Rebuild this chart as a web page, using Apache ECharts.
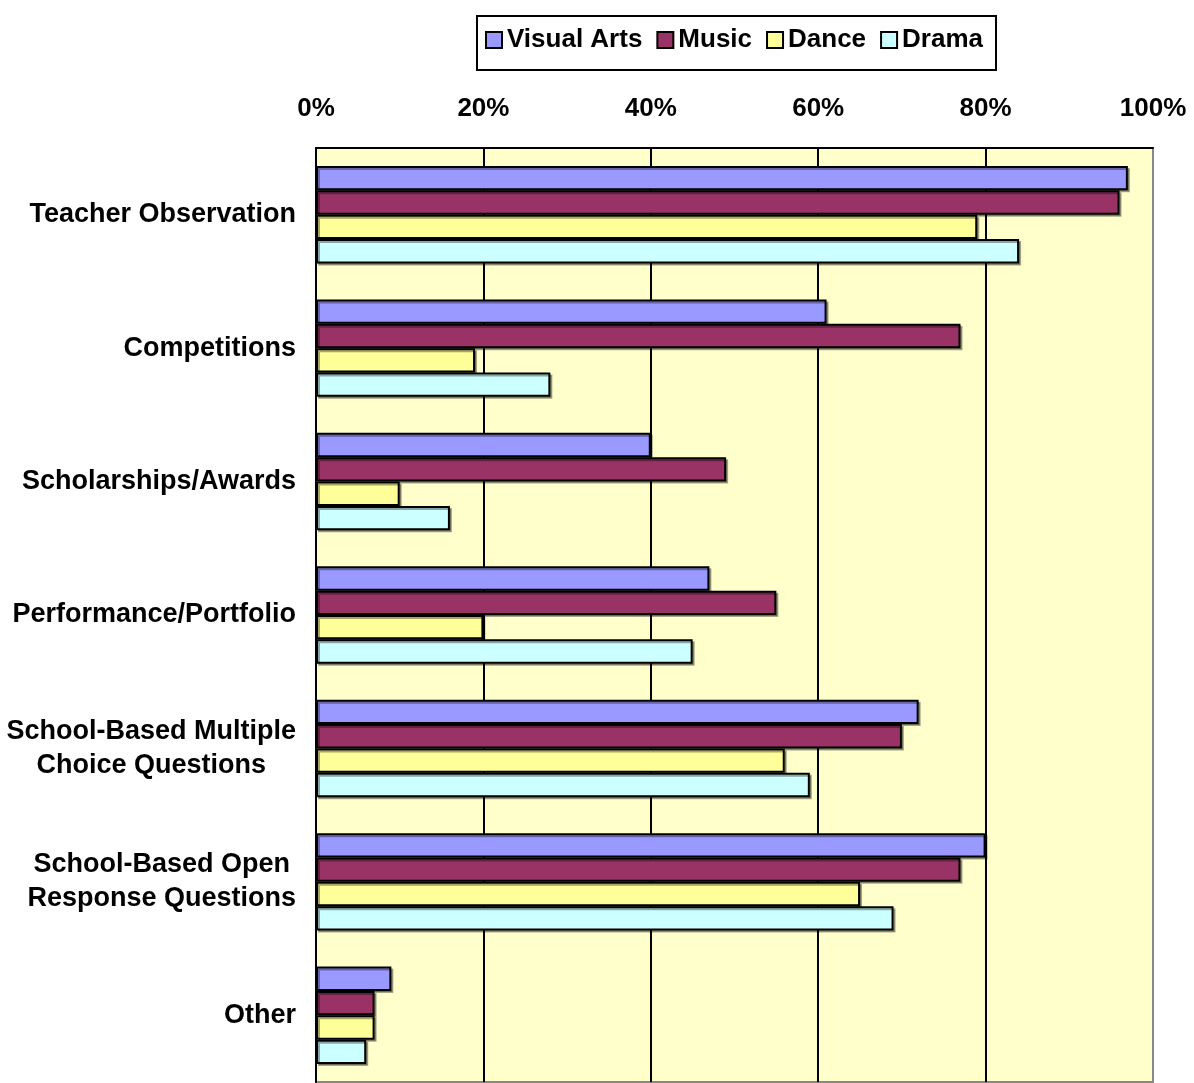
<!DOCTYPE html>
<html>
<head>
<meta charset="utf-8">
<script src="https://cdn.jsdelivr.net/npm/echarts@6/dist/echarts.min.js"></script>
<style>
	html, body { margin: 0; padding: 0; background: #fff; }
	#main { width: 1194px; height: 1083px; }
</style>
</head>
<body>
<div id="main"></div>
<script>
const categories = [
	'Teacher Observation',
	'Competitions',
	'Scholarships/Awards',
	'Performance/Portfolio',
	'School-Based Multiple\nChoice Questions',
	'School-Based Open\nResponse Questions',
	'Other'
];
const visualArts = [97, 61, 40, 47, 72, 80, 9];
const music = [96, 77, 49, 55, 70, 77, 7];
const dance = [79, 19, 10, 20, 56, 65, 7];
const drama = [84, 28, 16, 45, 59, 69, 6];

const font = "'Liberation Sans', Arial, sans-serif";

let myChart = echarts.init(document.getElementById('main'));

function barSeries(name, color, data) {
	return {
		name: name,
		type: 'bar',
		barGap: '0%',
		barCategoryGap: '27%',
		itemStyle: {
			color: color,
			borderColor: '#000',
			borderWidth: 2,
			shadowColor: 'rgba(0,0,0,0.35)',
			shadowOffsetX: 2,
			shadowOffsetY: 2
		},
		data: data
	};
}

let option = {
	backgroundColor: '#fff',
	animation: false,
	legend: {
		left: 477,
		top: 16,
		padding: [11, 13, 17, 8],
		itemGap: 14,
		itemWidth: 16,
		itemHeight: 16,
		icon: 'rect',
		borderColor: '#000',
		borderWidth: 2,
		textStyle: {
			fontFamily: font,
			fontSize: 26,
			fontWeight: 'bold',
			color: '#000'
		}
	},
	grid: {
		left: 316,
		top: 148,
		right: 41,
		bottom: 1,
		show: true,
		backgroundColor: '#FFFFCC',
		borderColor: '#888',
		borderWidth: 2
	},
	xAxis: {
		type: 'value',
		position: 'top',
		min: 0,
		max: 100,
		interval: 20,
		axisLine: { show: true, lineStyle: { color: '#000', width: 2 } },
		axisTick: { show: false },
		splitLine: {
			show: true,
			showMaxLine: false,
			lineStyle: { color: '#000', width: 2 }
		},
		axisLabel: {
			formatter: '{value}%',
			margin: 26,
			fontFamily: font,
			fontSize: 26,
			fontWeight: 'bold',
			color: '#000'
		}
	},
	yAxis: {
		type: 'category',
		inverse: true,
		data: categories,
		axisLine: { show: true, lineStyle: { color: '#000', width: 2 } },
		axisTick: { show: false },
		axisLabel: {
			margin: 20,
			formatter: function (v) {
				return v.split('\n').map(function (s) { return '{c|' + s + '}'; }).join('\n');
			},
			rich: {
				c: {
					fontFamily: font,
					fontSize: 27,
					fontWeight: 'bold',
					color: '#000',
					lineHeight: 34,
					align: 'center'
				}
			}
		}
	},
	series: [
		barSeries('Visual Arts', '#9999FF', visualArts),
		barSeries('Music', '#993366', music),
		barSeries('Dance', '#FFFF99', dance),
		barSeries('Drama', '#CCFFFF', drama)
	]
};

myChart.setOption(option);
</script>
</body>
</html>
